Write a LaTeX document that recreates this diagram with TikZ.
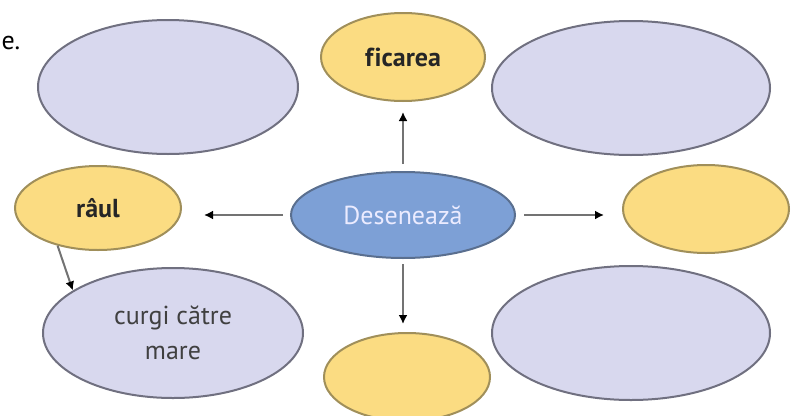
\documentclass[tikz,border=0pt]{standalone}
\usepackage{fontspec}
\setmainfont{PT Sans}
\usepackage{tikz}
\usetikzlibrary{shapes.geometric,arrows.meta}
\definecolor{lila}{RGB}{216,216,238}
\definecolor{lilaline}{RGB}{112,112,128}
\definecolor{galben}{RGB}{251,220,130}
\definecolor{galbenline}{RGB}{160,143,90}
\definecolor{albastru}{RGB}{125,160,214}
\definecolor{albastruline}{RGB}{90,111,143}
\tikzset{
  font={\fontsize{26pt}{35pt}\selectfont},
  oval/.style={ellipse,line width=2pt,inner sep=0pt},
  gol/.style={oval,draw=lilaline,fill=lila,text=black!75},
  cheie/.style={oval,draw=galbenline,fill=galben,text=black!85,font={\fontsize{26pt}{35pt}\selectfont\bfseries}},
  centru/.style={oval,draw=albastruline,fill=albastru,text=white!92!blue},
  sageata/.style={draw=black!55,line width=2pt,-{Latex[length=9pt,width=9pt,color=black]}}}

\begin{document}
\begin{tikzpicture}[x=1pt,y=-1pt]
\tikzstyle{every node}+=[align=center]
\useasboundingbox (0,0) rectangle (794,415);
\clip (0,0) rectangle (794,415);
\node [anchor=west] (cuvant) at (-2,43) {e.};
\node [gol,minimum width=260pt,minimum height=134pt] (stangasus) at (168,87) {};
\node [gol,minimum width=278pt,minimum height=134pt] (dreaptasus) at (631,88) {};
\node [gol,minimum width=260pt,minimum height=130pt] (curgi) at (173,333) {curgi către\\mare};
\node [gol,minimum width=278pt,minimum height=134pt] (dreaptajos) at (631,333) {};
\node [cheie,minimum width=164pt,minimum height=88pt] (floarea) at (403,57) {f\/icarea};
\node [cheie,minimum width=166pt,minimum height=84pt] (raul) at (98,208) {râul};
\node [cheie,minimum width=166pt,minimum height=88pt] (dreapta) at (706,209) {};
\node [cheie,minimum width=166pt,minimum height=88pt] (jos) at (407,377) {};
\node [centru,minimum width=224pt,minimum height=86pt] (deseneaza) at (403,215) {Desenează};
\draw [sageata,shorten <=7pt,shorten >=10pt] (deseneaza.north) -- (deseneaza.north |- floarea.south);
\draw [sageata,shorten <=7pt,shorten >=22pt] (deseneaza.west) -- (deseneaza.west -| raul.east);
\draw [sageata,shorten <=8pt,shorten >=18pt] (deseneaza.east) -- (deseneaza.east -| dreapta.west);
\draw [sageata,shorten <=5pt,shorten >=8pt] (deseneaza.south) -- (deseneaza.south |- jos.north);
\draw [sageata] (raul.223) -- (curgi.157);
\end{tikzpicture}
\end{document}
